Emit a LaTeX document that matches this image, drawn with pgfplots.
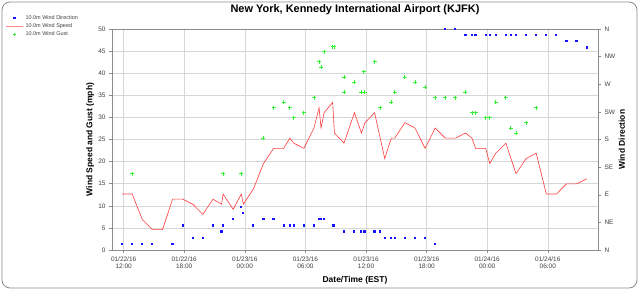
\documentclass[border=0pt]{standalone}
\usepackage{fontspec}
\setmainfont{Liberation Sans}
\usepackage{pgfplots}
\pgfplotsset{compat=1.18}
\definecolor{wsred}{RGB}{255,60,60}
\definecolor{wggreen}{RGB}{50,240,50}
\definecolor{wdblue}{RGB}{20,20,255}
\definecolor{axgray}{RGB}{140,140,140}
\definecolor{gridgray}{RGB}{215,215,215}
\begin{document}
\begin{tikzpicture}
\useasboundingbox (-112bp,-41bp) rectangle (528bp,250bp);
\draw[axgray, line width=0.8bp, rounded corners=8bp] (-110bp,-38bp) rectangle (525bp,248bp);
\pgfplotsset{
 every axis title shift=0pt,
 base/.style={scale only axis, width=486bp, height=221bp, xmin=-1.15, xmax=46.97,
   /pgf/number format/assume math mode=true,
   tick label style={font=\fontsize{6.5}{7.5}\selectfont, text=black!75},
   label style={font=\bfseries\fontsize{8.5}{10}\selectfont},
   tick style={axgray, line width=0.5bp}, major tick length=3bp, tick align=outside,
   axis line style={axgray, line width=0.6bp}}
}
\begin{axis}[base, ymin=0, ymax=50, ytick={0,5,...,50},
  xtick={0,6,...,42}, xtick pos=bottom, ytick pos=left,
  xticklabels={01/22/16\\12:00, 01/22/16\\18:00, 01/23/16\\00:00, 01/23/16\\06:00, 01/23/16\\12:00, 01/23/16\\18:00, 01/24/16\\00:00, 01/24/16\\06:00},
  xticklabel style={align=center},
  grid=major, grid style={gridgray, line width=0.6bp},
  title={New York, Kennedy International Airport (KJFK)},
  title style={font=\bfseries\fontsize{11}{13}\selectfont, at={(axis description cs:0.5,1.086)}, anchor=center},
  xlabel={Date/Time (EST)},
  xlabel style={at={(axis description cs:0.5,-0.136)}, anchor=center},
  ylabel={Wind Speed and Gust (mph)},
  ylabel style={at={(axis description cs:-0.045,0.5)}, anchor=center},
  ]
\addplot[wsred, line width=0.6bp, mark=none] coordinates {
(-0.15,12.66) (0.85,12.66) (1.85,6.9) (2.85,4.6) (3.85,4.6) (4.85,11.5) (5.85,11.5)
(6.85,10.36) (7.85,8.06) (8.85,11.5) (9.7,10.36) (9.85,12.66) (10.85,9.2) (11.65,12.66)
(11.85,10.36) (12.85,13.8) (13.85,19.56) (14.85,23.0) (15.85,23.0) (16.45,25.3) (16.85,24.17)
(17.85,23.0) (18.85,27.6) (19.35,32.2) (19.55,27.6) (19.85,31.07) (20.7,33.4) (20.87,26.47)
(21.82,24.17) (22.85,31.07) (23.55,26.47) (23.9,28.8) (24.85,31.07) (25.85,20.7) (26.5,25.3)
(26.85,25.3) (27.85,28.8) (28.85,27.6) (29.85,23.0) (30.85,27.6) (31.85,25.3) (32.85,25.3)
(33.85,26.47) (34.5,25.3) (34.85,23.0) (35.85,23.0) (36.25,19.56) (36.85,21.9) (37.85,24.17)
(38.85,17.26) (39.85,20.7) (40.85,21.9) (41.85,12.66) (42.85,12.66) (43.85,14.96) (44.85,14.96)
(45.85,16.1)
};
\addplot[wggreen, only marks, mark=+, mark size=2bp, mark options={line width=0.9bp}] coordinates {
(0.85,17.26) (9.85,17.26) (11.65,17.26) (13.85,25.3) (14.85,32.2) (15.85,33.4) (16.45,32.2)
(16.85,29.9) (17.85,31.07) (18.85,34.5) (19.35,42.6) (19.55,41.4) (19.85,44.9) (20.7,46.0)
(20.87,46.0) (21.82,39.1) (21.85,35.7) (22.85,38.0) (23.5,35.7) (23.76,40.3) (23.86,35.7)
(24.85,42.6) (25.4,32.2) (26.5,33.4) (26.85,35.7) (27.85,39.1) (28.85,38.0) (29.85,36.8)
(30.85,34.5) (31.85,34.5) (32.85,34.5) (33.85,35.7) (34.5,31.07) (34.85,31.07) (35.85,29.9)
(36.25,29.9) (36.85,33.4) (37.85,34.5) (38.35,27.6) (38.85,26.47) (39.85,28.8) (40.85,32.2)
};
\end{axis}
\begin{axis}[base, ymin=0, ymax=360, axis y line*=right, axis x line=none,
  ytick={0,45,...,360}, yticklabels={N,NE,E,SE,S,SW,W,NW,N},
  ylabel={Wind Direction},
  ylabel style={at={(axis description cs:1.049,0.5)}, anchor=center, rotate=0},
  clip=false,
  legend style={at={(axis description cs:-0.222,1.075)}, anchor=north west, draw=none, fill=none,
    font=\fontsize{5.5}{6}\selectfont, text=black!75, row sep=-1.5bp, inner sep=1bp},
  legend cell align=left,
  ]
\addplot[wdblue, only marks, mark=square*, mark size=0.6bp, mark options={line width=0pt, draw=none}] coordinates {
(-0.15,10) (0.85,10) (1.85,10) (2.85,10) (4.85,10) (5.85,40) (6.85,20) (7.85,20) (8.85,40)
(9.7,30) (9.85,40) (10.85,50) (11.65,70) (11.85,60) (12.85,40) (13.85,50) (14.85,50)
(15.85,40) (16.45,40) (16.85,40) (17.85,40) (18.85,40) (19.35,50) (19.55,50) (19.85,50)
(20.7,40) (20.87,40) (21.82,30) (22.85,30) (23.5,30) (23.86,30) (24.85,30) (25.4,30)
(25.85,20) (26.5,20) (26.85,20) (27.85,20) (28.85,20) (29.85,20) (30.85,10) (31.85,360)
(32.85,360) (33.85,350) (34.5,350) (34.85,350) (35.85,350) (36.25,350) (36.85,350)
(37.85,350) (38.35,350) (38.85,350) (39.85,350) (40.85,350) (41.85,350) (42.85,350)
(43.85,340) (44.85,340) (45.85,330)
};
\addlegendentry{10.0m Wind Direction}
\addlegendimage{wsred!60, line width=1.2bp}
\addlegendentry{10.0m Wind Speed}
\addlegendimage{wggreen, only marks, mark=+, mark size=1.5bp, mark options={line width=0.8bp}}
\addlegendentry{10.0m Wind Gust}
\end{axis}
\end{tikzpicture}
\end{document}
